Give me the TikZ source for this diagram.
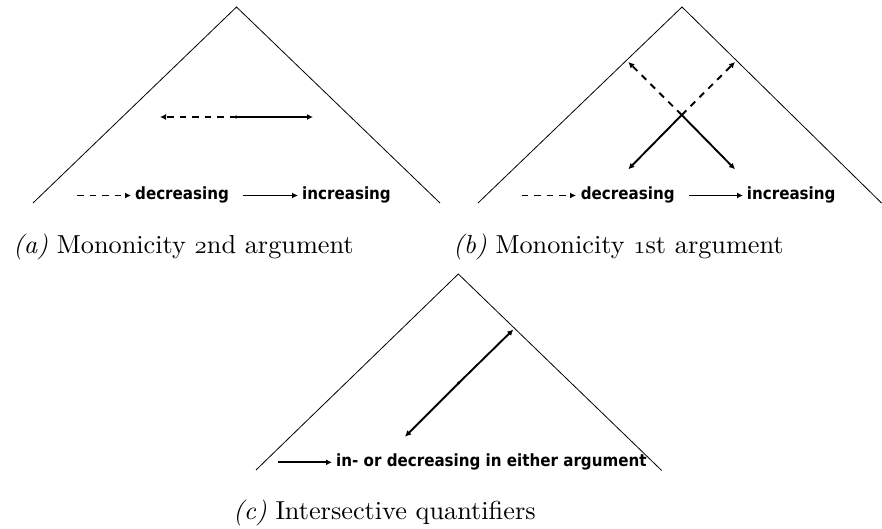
\documentclass[tikz,border=0pt]{standalone}
\usepackage{fontspec}
\usetikzlibrary{arrows.meta}
\newfontfamily\legendfont{DejaVu Sans Condensed}
\newfontfamily\capfont{lmroman10-regular.otf}[ItalicFont=lmroman10-italic.otf, FakeStretch=1.01]
\newcommand\osfig[1]{{\fontencoding{OML}\fontfamily{lmm}\fontseries{m}\fontshape{it}\selectfont #1}}
\tikzset{
  tri/.style={line width=0.8pt, line join=miter},
  incarrow/.style={line width=1.9pt, -{Latex[length=6pt,width=6pt]}},
  decarrow/.style={incarrow, dash pattern=on 6.5pt off 6pt},
  legtext/.style={font=\legendfont\bfseries\fontsize{16.8}{18}\selectfont, inner sep=0pt, anchor=base west},
  captext/.style={font=\capfont\fontsize{26}{30}\selectfont, inner sep=0pt, anchor=base west},
  centerdot/.style={circle, fill, inner sep=0pt, minimum size=3.5pt}
}
\begin{document}
\begin{tikzpicture}[x=1pt,y=-1pt]
\useasboundingbox (0,0) rectangle (882,529);
% ---------- panel (a)
\coordinate (aT) at (236.5,7);
\coordinate (aL) at (33,203);
\coordinate (aR) at (440,203);
\draw[tri] (aL) -- (aT) -- (aR);
\node[centerdot] (aC) at (236,117) {};
\coordinate (aDec) at (160,117);
\coordinate (aInc) at (313,117);
\draw[decarrow] (aC.center) -- (aDec);
\draw[incarrow] (aC.center) -- (aInc);
\coordinate (aLd1) at (77,195.5);
\coordinate (aLd2) at (131,195.5);
\draw[decarrow] (aLd1) -- (aLd2);
\node[legtext] (aLdt) at (135,200) {decreasing};
\coordinate (aLi1) at (243,195.5);
\coordinate (aLi2) at (298,195.5);
\draw[incarrow] (aLi1) -- (aLi2);
\node[legtext] (aLit) at (302,200) {increasing};
\node[captext] (aCap) at (13,253) {\textit{(a)} Mononicity \osfig{2}nd argument};
% ---------- panel (b)
\coordinate (bT) at (682,7);
\coordinate (bL) at (478,203);
\coordinate (bR) at (881.5,203);
\draw[tri] (bL) -- (bT) -- (bR);
\coordinate (bC) at (681.7,115);
\coordinate (bUL) at (628.3,62);
\coordinate (bUR) at (735,62);
\coordinate (bLL) at (628.3,169.3);
\coordinate (bLR) at (735,169.3);
\draw[decarrow] (bC) -- (bUL);
\draw[decarrow] (bC) -- (bUR);
\draw[incarrow] (bC) -- (bLL);
\draw[incarrow] (bC) -- (bLR);
\coordinate (bLd1) at (521.7,195.5);
\coordinate (bLd2) at (576,195.5);
\draw[decarrow] (bLd1) -- (bLd2);
\node[legtext] (bLdt) at (580.7,200) {decreasing};
\coordinate (bLi1) at (689,195.5);
\coordinate (bLi2) at (743,195.5);
\draw[incarrow] (bLi1) -- (bLi2);
\node[legtext] (bLit) at (746.7,200) {increasing};
\node[captext] (bCap) at (453,253) {\textit{(b)} Mononicity \osfig{1}st argument};
% ---------- panel (c)
\coordinate (cT) at (458.3,274);
\coordinate (cL) at (256,470);
\coordinate (cR) at (661.7,470.5);
\draw[tri] (cL) -- (cT) -- (cR);
\node[centerdot] (cC) at (458.7,383) {};
\coordinate (cLL) at (405,436.7);
\coordinate (cUR) at (513.3,329.5);
\draw[incarrow] (cC.center) -- (cLL);
\draw[incarrow] (cC.center) -- (cUR);
\coordinate (cLi1) at (278.3,462.3);
\coordinate (cLi2) at (332,462.3);
\draw[incarrow] (cLi1) -- (cLi2);
\node[legtext] (cLit) at (336,466.7) {in- or decreasing in either argument};
\node[captext] (cCap) at (233,519.5) {\textit{(c)} Intersective quantifiers};
\end{tikzpicture}
\end{document}
